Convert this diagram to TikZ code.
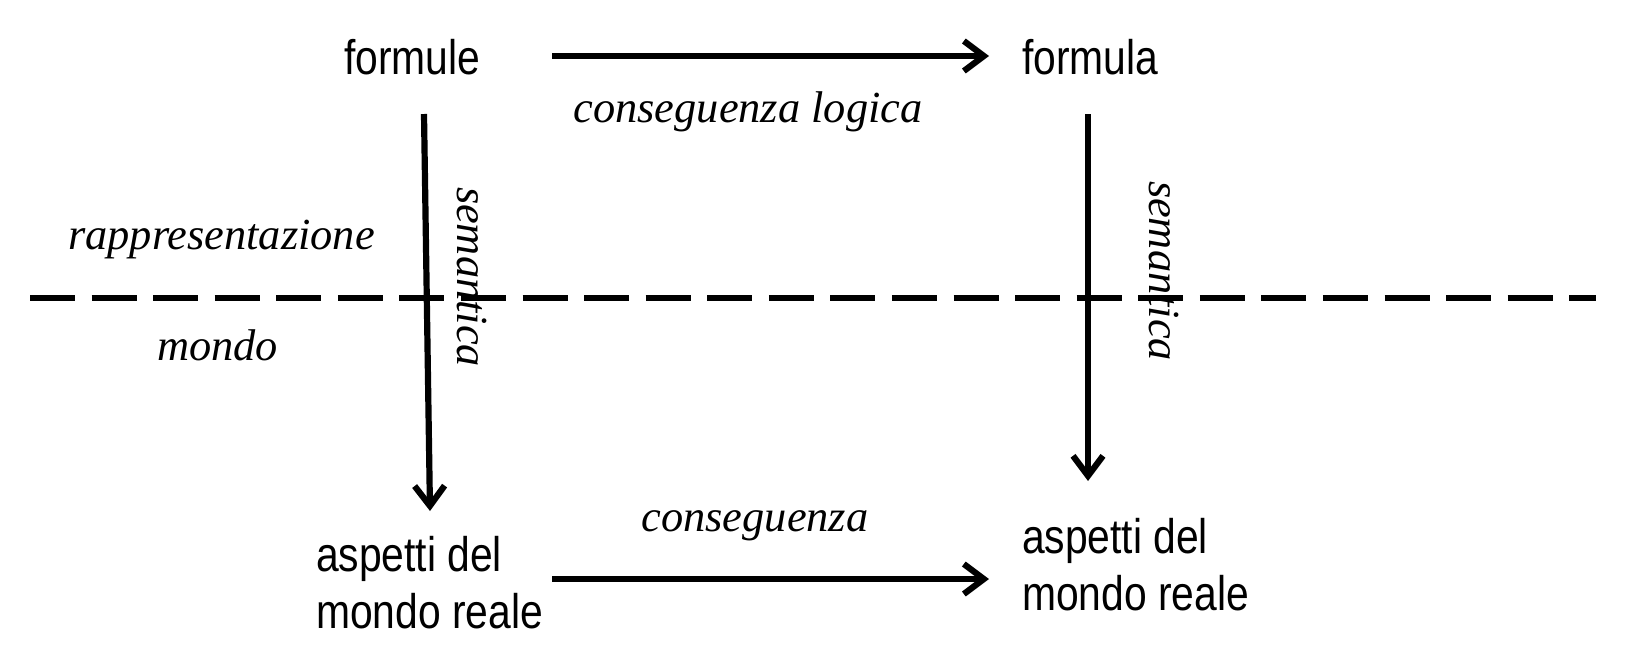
\documentclass[tikz,border=0pt]{standalone}
\usepackage{fontspec}
\setmainfont{Liberation Serif}
\newfontfamily\labsans[FakeStretch=0.84]{Liberation Sans}
\usetikzlibrary{arrows.meta}
\tikzset{
  term/.style={inner sep=0pt, outer sep=0pt, align=left,
    font={\labsans\fontsize{48.6}{57}\selectfont}},
  lab/.style={inner sep=0pt, outer sep=0pt,
    font={\fontsize{44.4}{50}\selectfont\itshape}},
  conn/.style={line width=6.2pt, -{Straight Barb[length=20pt,width=30pt,line width=6.2pt]}},
  divider/.style={line width=6pt, dash pattern=on 45pt off 16.57pt},
}
\begin{document}
\begin{tikzpicture}[x=1pt,y=-1pt]
\useasboundingbox (0,0) rectangle (1625,662);
% terms
\node[term, anchor=base west] (formule) at (344,74) {formule};
\node[term, anchor=base west] (formula) at (1022,74) {formula};
\node[term, anchor=north west] (aspL) at (316,536.6) {aspetti del\\mondo reale};
\node[term, anchor=north west] (aspR) at (1022,518.6) {aspetti del\\mondo reale};
% labels
\node[lab, anchor=base] (lconsl) at (748,122) {conseguenza logica};
\node[lab, anchor=base] (lcons) at (755,531.5) {conseguenza};
\node[lab, anchor=base] (lrapp) at (221.5,249) {rappresentazione};
\node[lab, anchor=base] (lmondo) at (217.5,360) {mondo};
\node[lab, anchor=base west, rotate=-90] (lsemL) at (457,187) {semantica};
\node[lab, anchor=base west, rotate=-90] (lsemR) at (1149,181) {semantica};
% connector end points
\coordinate (formule-r) at (552,56);
\coordinate (formula-l) at (989,56);
\coordinate (formule-b) at (424,114);
\coordinate (aspL-t) at (430,511);
\coordinate (formula-b) at (1088,114);
\coordinate (aspR-t) at (1088,481);
\coordinate (aspL-r) at (552,579);
\coordinate (aspR-l) at (989,579);
\coordinate (divL) at (30,298);
\coordinate (divR) at (1596,298);
% connectors
\draw[conn] (formule-r) -- (formula-l);
\draw[conn] (formule-b) -- (aspL-t);
\draw[conn] (formula-b) -- (aspR-t);
\draw[conn] (aspL-r) -- (aspR-l);
\draw[divider] (divL) -- (divR);
\end{tikzpicture}
\end{document}
